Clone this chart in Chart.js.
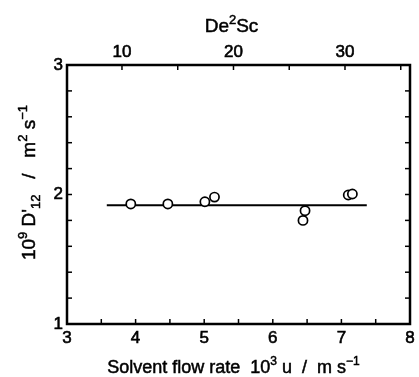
<!DOCTYPE html>
<html>
<head>
<meta charset="utf-8">
<script src="https://cdn.jsdelivr.net/npm/chart.js@4/dist/chart.umd.min.js"></script>
<style>
  html, body { margin: 0; padding: 0; background: #fff; }
  #wrap { width: 419px; height: 377px; }
</style>
</head>
<body>
<div id="wrap"><canvas id="chart" width="419" height="377"></canvas></div>
<script>
// measured points: flow rate u (10^3 m/s) vs D'12 (10^-9 m2/s)
const flowRate = [3.93, 4.47, 5.01, 5.15, 6.44, 6.47, 7.10, 7.16];
const diffusivity = [1.927, 1.927, 1.944, 1.98, 1.80, 1.875, 1.996, 2.004];

// horizontal mean line
const fitX = [3.58, 7.37];
const fitY = [1.917, 1.917];

// axes
const uTicks = [3, 4, 5, 6, 7, 8];
const uMinor = [3.5, 4.5, 5.5, 6.5, 7.5];
const dTicks = [1, 2, 3];
const dMinor = [1.2, 1.4, 1.6, 1.8, 2.2, 2.4, 2.6, 2.8];
const deScTicks = [10, 20, 30];
const deScMinor = [15, 25, 35];
const deScRange = [5.07, 35.83];

// titles, split so the super/subscripts can be drawn at their own size
const xTitle = [['Solvent flow rate  10'], ['3', 'sup'], [' u  /  m s'], ['\u22121', 'sup']];
const yTitle = [['10'], ['9', 'sup'], [' D'], ["'"], ['12', 'sub'], ['   /   m'], ['2', 'sup'], [' s'], ['\u22121', 'sup']];
const topTitle = [['De'], ['2', 'sup'], ['Sc']];

const FONT = "'Liberation Sans', Arial, Helvetica, sans-serif";

const pointData = flowRate.map((u, i) => ({ x: u, y: diffusivity[i] }));
const lineData = fitX.map((u, i) => ({ x: u, y: fitY[i] }));

function drawRich(ctx, parts, x, y, angle, size) {
  const small = Math.round(size * 0.68);
  const fontOf = k => (k ? small : size) + 'px ' + FONT;
  let total = 0;
  parts.forEach(p => { ctx.font = fontOf(p[1]); total += ctx.measureText(p[0]).width; });
  ctx.save();
  ctx.translate(x, y);
  ctx.rotate(angle);
  ctx.fillStyle = '#000';
  ctx.strokeStyle = '#000';
  ctx.lineWidth = 0.5;
  ctx.textBaseline = 'alphabetic';
  ctx.textAlign = 'left';
  let pos = -total / 2;
  parts.forEach(p => {
    ctx.font = fontOf(p[1]);
    let dy = 0;
    if (p[1] === 'sup') dy = -size * 0.42;
    if (p[1] === 'sub') dy = size * 0.25;
    ctx.fillText(p[0], pos, dy);
    ctx.strokeText(p[0], pos, dy);
    pos += ctx.measureText(p[0]).width;
  });
  ctx.restore();
}

// box, inward tick marks and the axis titles
const frame = {
  id: 'frame',
  afterDatasetsDraw(chart) {
    const ctx = chart.ctx;
    const a = chart.chartArea;
    const sx = chart.scales.x, sy = chart.scales.y, st = chart.scales.x2;
    ctx.save();
    ctx.strokeStyle = '#000';
    ctx.lineWidth = 1.5;
    const tick = (x1, y1, x2, y2) => {
      ctx.beginPath(); ctx.moveTo(x1, y1); ctx.lineTo(x2, y2); ctx.stroke();
    };
    uTicks.concat(uMinor).forEach(v => {
      const p = sx.getPixelForValue(v);
      tick(p, a.bottom, p, a.bottom - 5);
    });
    dTicks.concat(dMinor).forEach(v => {
      const p = sy.getPixelForValue(v);
      tick(a.left, p, a.left + 5, p);
      tick(a.right, p, a.right - 5, p);
    });
    deScTicks.concat(deScMinor).forEach(v => {
      const p = st.getPixelForValue(v);
      tick(p, a.top, p, a.top + 5);
    });
    ctx.lineWidth = 2.5;
    ctx.strokeRect(a.left, a.top, a.right - a.left, a.bottom - a.top);
    ctx.restore();

    const midX = (a.left + a.right) / 2;
    const midY = (a.top + a.bottom) / 2;
    drawRich(ctx, xTitle, midX - 5, chart.height - 4, 0, 18);
    drawRich(ctx, topTitle, midX - 7, 32, 0, 19);
    drawRich(ctx, yTitle, 35, midY - 12, -Math.PI / 2, 19);
  }
};

const tickStyle = {
  color: '#000',
  textStrokeColor: '#000',
  textStrokeWidth: 0.6,
  maxRotation: 0,
  font: { family: FONT, size: 17 }
};

new Chart(document.getElementById('chart'), {
  type: 'scatter',
  data: {
    datasets: [
      {
        label: 'mean',
        type: 'line',
        data: lineData,
        borderColor: '#000',
        borderWidth: 2.2,
        pointRadius: 0,
        fill: false,
        order: 2
      },
      {
        label: 'D12',
        data: pointData,
        pointRadius: 4.6,
        pointBackgroundColor: '#fff',
        pointBorderColor: '#000',
        pointBorderWidth: 1.7,
        order: 1
      }
    ]
  },
  options: {
    responsive: false,
    animation: false,
    layout: { padding: { left: 0, right: 9, top: 0, bottom: 0 } },
    plugins: { legend: { display: false }, tooltip: { enabled: false } },
    scales: {
      x: {
        type: 'linear',
        position: 'bottom',
        min: 3,
        max: 8,
        afterBuildTicks: s => { s.ticks = uTicks.map(v => ({ value: v })); },
        afterFit: s => { s.height = 53; },
        grid: { display: false, drawTicks: false },
        border: { display: false },
        ticks: Object.assign({ padding: 4 }, tickStyle)
      },
      x2: {
        type: 'linear',
        position: 'top',
        min: deScRange[0],
        max: deScRange[1],
        afterBuildTicks: s => { s.ticks = deScTicks.map(v => ({ value: v })); },
        afterFit: s => { s.height = 65; },
        grid: { display: false, drawTicks: false },
        border: { display: false },
        ticks: Object.assign({ padding: 2 }, tickStyle)
      },
      y: {
        type: 'linear',
        min: 1,
        max: 3,
        afterBuildTicks: s => { s.ticks = dTicks.map(v => ({ value: v })); },
        afterFit: s => { s.width = 67; },
        grid: { display: false, drawTicks: false },
        border: { display: false },
        ticks: Object.assign({ padding: 4 }, tickStyle)
      }
    }
  },
  plugins: [frame]
});
</script>
</body>
</html>
